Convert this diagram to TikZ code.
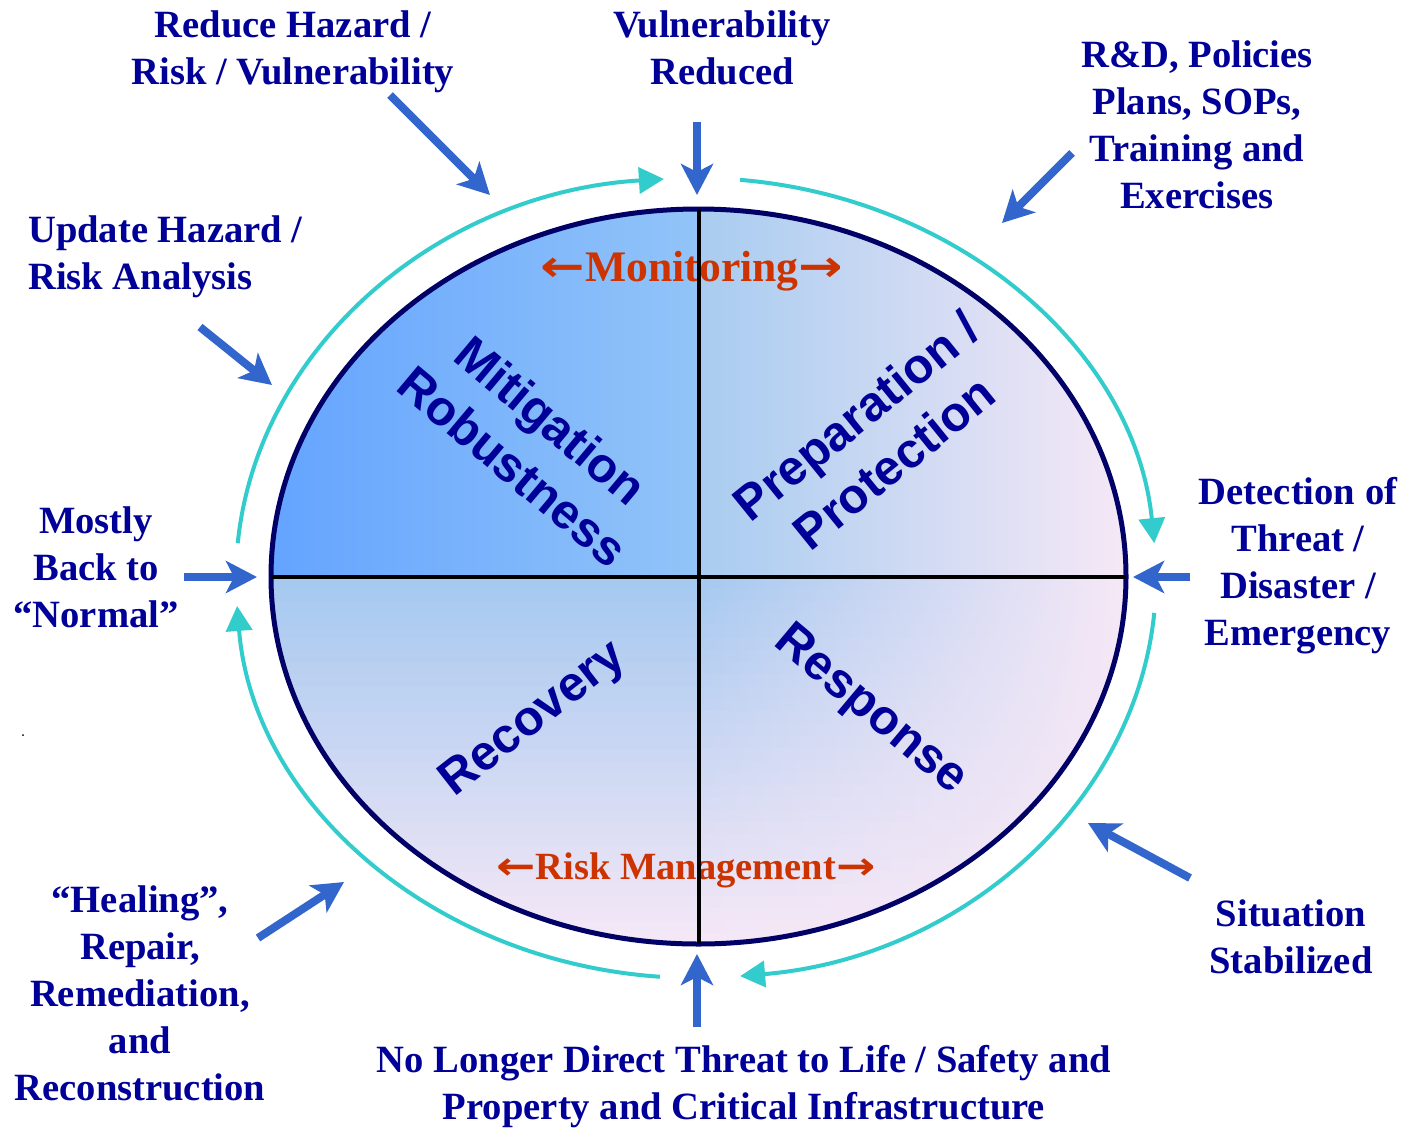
\documentclass[tikz,border=0pt]{standalone}
\usepackage{graphicx}
\usepackage{fontspec}
\setmainfont{Liberation Serif}
\newfontfamily\arialf{Liberation Sans}
\newfontfamily\arrf{DejaVu Sans}
\usetikzlibrary{arrows.meta,shapes.geometric}
\definecolor{navytxt}{HTML}{000099}
\definecolor{navyline}{HTML}{000066}
\definecolor{bluearr}{HTML}{3366CC}
\definecolor{cyanarr}{HTML}{33CCCC}
\definecolor{orangetxt}{HTML}{CC3300}
\definecolor{tlA}{HTML}{64A4FF}
\definecolor{tlB}{HTML}{92C4F8}
\definecolor{trA}{HTML}{A8CCF0}
\definecolor{pinkE}{HTML}{F6E8F6}
\definecolor{blB}{HTML}{A4C8F0}
\newcommand\bigLarr{\scalebox{1.22}[1]{\arrf\bfseries ←}}
\newcommand\bigRarr{\scalebox{1.22}[1]{\arrf\bfseries →}}
\begin{document}
\begin{tikzpicture}[x=1pt,y=1pt,
  lbl/.style={text=navytxt, font=\fontsize{38.6}{47}\selectfont\bfseries, align=center, inner sep=0pt},
  quad/.style={text=navytxt, font=\arialf\fontsize{49}{60}\selectfont\bfseries, align=center, inner sep=0pt},
  phase/.style={text=orangetxt, inner sep=0pt, anchor=base},
  inarrow/.style={draw=bluearr, line width=8pt, -{Stealth[length=31pt,width=32pt,inset=8pt]}},
  cyc/.style={draw=cyanarr, line width=4pt, -{Triangle[length=25pt,width=26pt]}},
  divider/.style={draw=black, line width=4pt}
]
\useasboundingbox (0,0) rectangle (1418,-1127);
\fill[white] (0,0) rectangle (1418,-1127);

% ellipse fill
\begin{scope}
\clip (698.5,-576.5) ellipse [x radius=427.5, y radius=367.5];
\shade[left color=tlA, right color=tlB] (270,-208) rectangle (698.5,-577);
\shade[left color=trA, right color=pinkE] (698.5,-208) rectangle (1127,-577);
\foreach \i in {0,...,29} {
  \pgfmathsetmacro\ya{-576.5-\i*12.3}
  \pgfmathsetmacro\yb{\ya-13.3}
  \pgfmathtruncatemacro\p{100-(\i+0.5)*100/30}
  \fill[blB!\p!pinkE] (270,\ya) rectangle (698.5,\yb);
  \shade[left color=blB!\p!pinkE, right color=pinkE] (698.5,\ya) rectangle (1127,\yb);
}
\end{scope}

\node[ellipse, draw=navyline, line width=5pt, minimum width=855pt, minimum height=735pt, inner sep=0pt, outer sep=0pt] (E) at (698.5,-576.5) {};

% phase labels on the ring
\node[phase, font=\fontsize{43.6}{50}\selectfont\bfseries] (mon) at (692,-281.7) {\bigLarr Monitoring\bigRarr};
\node[phase, font=\fontsize{38.5}{46}\selectfont\bfseries] (risk) at (686,-879.3) {\bigLarr Risk Management\bigRarr};

% dividers
\draw[divider] (E.west) -- (E.east);
\draw[divider] (E.north) -- (E.south);

% quadrant names
\node[quad, rotate=-40] (mit) at (532,-443) {Mitigation\\Robustness};
\node[quad, rotate=39] (prep) at (875,-439) {Preparation /\\Protection};
\node[quad, rotate=38] (rec) at (534,-720) {Recovery};
\node[quad, rotate=-40] (resp) at (870,-711) {Response};

% cycle arcs
\coordinate (oc) at (696,-578);
\draw[cyc] ([shift={(175:460 and 400)}]oc) arc[start angle=175, end angle=94, x radius=460, y radius=400];
\draw[cyc] ([shift={(84.5:460 and 400)}]oc) arc[start angle=84.5, end angle=5, x radius=460, y radius=400];
\draw[cyc] ([shift={(-5:460 and 400)}]oc) arc[start angle=-5, end angle=-84.5, x radius=460, y radius=400];
\draw[cyc] ([shift={(-94.5:460 and 400)}]oc) arc[start angle=-94.5, end angle=-176, x radius=460, y radius=400];

% outer labels
\node[lbl] (t1) at (293,-52) {Reduce Hazard /\\Risk / Vulnerability};
\node[lbl] (t2) at (722,-48) {Vulnerability\\Reduced};
\node[lbl] (t3) at (1197,-124.5) {R\&D, Policies\\Plans, SOPs,\\Training and\\Exercises};
\node[lbl, align=left, anchor=west] (t4) at (28,-257) {Update Hazard /\\Risk Analysis};
\node[lbl] (t5) at (96,-567) {Mostly\\Back to\\“Normal”};
\node[lbl] (t6) at (1298,-566) {Detection of\\Threat /\\Disaster /\\Emergency};
\node[lbl] (t7) at (1291,-937) {Situation\\Stabilized};
\node[lbl] (t8) at (140,-993) {“Healing”,\\Repair,\\Remediation,\\and\\Reconstruction};
\node[lbl] (t9) at (744,-1087) {No Longer Direct Threat to Life / Safety and\\Property and Critical Infrastructure};

% input arrows
\coordinate (a1s) at (390,-95);     \coordinate (a1e) at (490,-195);
\coordinate (a2s) at (697,-122);    \coordinate (a2e) at (697,-195);
\coordinate (a3s) at (1072,-153);   \coordinate (a3e) at (1002,-223);
\coordinate (a4s) at (200,-327);    \coordinate (a4e) at (272,-385);
\coordinate (a5s) at (184,-577);    \coordinate (a5e) at (257,-577);
\coordinate (a6s) at (1190,-577);   \coordinate (a6e) at (1133,-577);
\coordinate (a7s) at (1190,-878);   \coordinate (a7e) at (1088,-823);
\coordinate (a8s) at (258,-938);    \coordinate (a8e) at (344,-882);
\coordinate (a9s) at (697,-1027);   \coordinate (a9e) at (697,-954);
\foreach \k in {1,...,9} {\draw[inarrow] (a\k s) -- (a\k e);}

% stray dot
\fill[black] (23,-735) circle (1);
\end{tikzpicture}
\end{document}
